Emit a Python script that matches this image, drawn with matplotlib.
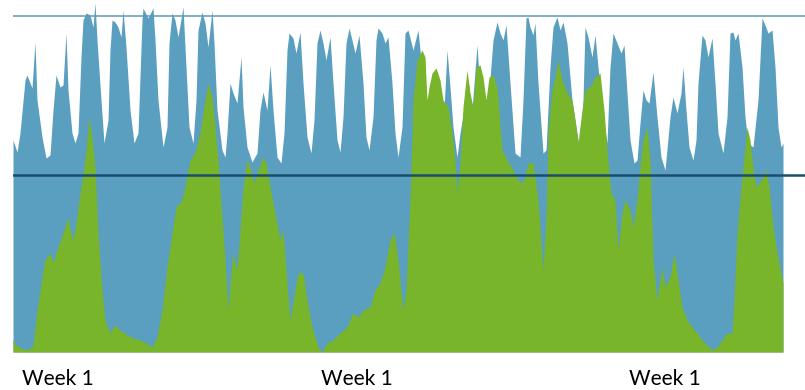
import matplotlib
matplotlib.use("Agg")
import numpy as np
from matplotlib import pyplot as plt

# time steps (arbitrary hourly index) and load values
blue_t = [0, 4, 7, 12, 14, 19, 22, 24, 29, 33, 37, 40, 43, 47, 50, 53, 55, 59, 62, 65,
          68, 70, 73, 77, 80, 82, 84, 88, 91, 95, 97, 99, 102, 105, 108, 110, 113, 117, 121, 125,
          129, 130, 135, 140, 142, 145, 150, 154, 156, 159, 162, 165, 170, 173, 176, 180, 183, 185, 189, 192,
          195, 199, 201, 204, 209, 212, 214, 217, 220, 224, 228, 230, 234, 239, 244, 247, 250, 254, 257, 260,
          264, 268, 271, 274, 276, 280, 283, 287, 290, 294, 298, 301, 304, 307, 310, 313, 317, 320, 324, 327,
          330, 333, 336, 339, 342, 346, 350, 353, 356, 360, 363, 365, 369, 372, 375, 379, 382, 385, 389, 392,
          395, 400, 405, 408, 415, 423, 431, 434, 437, 440, 444, 447, 450, 455, 459, 464, 466, 473, 480, 484,
          487, 490, 493, 497, 502, 507, 510, 513, 515, 517, 520, 522, 525, 530, 533, 537, 540, 544, 547, 550,
          554, 559, 564, 567, 570, 572, 575, 579, 582, 585, 589, 594, 597, 600, 604, 608, 611, 614, 617, 621,
          624, 627, 630, 633, 636, 640, 644, 648, 652, 657, 660, 664, 668, 670, 673, 676, 680, 683, 685, 689,
          692, 695, 699, 702, 705, 710, 714, 717, 720, 722, 725, 729, 732, 735, 740, 745, 749, 752, 755, 759,
          762, 765, 768, 770]
blue_v = [212, 200, 219, 272, 277, 264, 310, 252, 215, 194, 197, 242, 277, 265, 267, 319, 262, 219, 209, 219,
          295, 332, 339, 337, 325, 349, 312, 252, 209, 232, 302, 332, 330, 325, 315, 342, 305, 242, 209, 219,
          332, 344, 334, 344, 312, 252, 205, 225, 309, 339, 332, 315, 345, 285, 225, 209, 252, 322, 340, 329,
          305, 342, 309, 242, 202, 195, 219, 269, 259, 249, 295, 245, 205, 190, 199, 242, 260, 242, 287, 242,
          195, 189, 219, 302, 319, 314, 299, 320, 269, 215, 199, 232, 309, 322, 309, 292, 315, 269, 212, 200,
          235, 309, 324, 312, 299, 317, 269, 215, 202, 235, 312, 324, 319, 309, 315, 269, 219, 195, 225, 319,
          322, 302, 322, 292, 202, 272, 242, 302, 265, 225, 195, 219, 237, 272, 242, 307, 277, 222, 312, 330,
          319, 312, 327, 269, 199, 195, 252, 334, 335, 325, 317, 329, 269, 199, 202, 285, 325, 335, 322, 330,
          309, 252, 219, 199, 252, 325, 315, 295, 317, 285, 242, 209, 285, 319, 309, 299, 307, 259, 212, 189,
          192, 229, 262, 252, 249, 280, 235, 195, 182, 235, 255, 239, 259, 285, 242, 205, 192, 212, 269, 317,
          312, 295, 314, 269, 219, 199, 235, 319, 320, 312, 319, 285, 235, 209, 205, 252, 334, 327, 319, 322,
          285, 225, 205, 209]

green_t = [0, 5, 15, 20, 24, 29, 32, 37, 40, 44, 50, 55, 59, 62, 67, 71, 74, 76, 79, 82,
           85, 89, 92, 97, 102, 107, 114, 120, 127, 133, 139, 144, 149, 154, 159, 163, 169, 172, 177, 182,
           187, 192, 195, 199, 202, 205, 209, 212, 215, 218, 220, 224, 227, 230, 234, 237, 241, 245, 250, 253,
           257, 262, 267, 270, 274, 277, 282, 285, 290, 294, 299, 305, 309, 314, 320, 327, 334, 340, 345, 350,
           357, 362, 367, 372, 377, 381, 385, 390, 393, 397, 400, 404, 409, 412, 414, 416, 419, 423, 427, 430,
           435, 439, 442, 444, 447, 450, 454, 457, 460, 463, 467, 470, 473, 476, 480, 484, 489, 494, 500, 507,
           511, 515, 520, 522, 525, 530, 533, 535, 539, 542, 545, 549, 554, 559, 562, 565, 569, 572, 577, 582,
           587, 591, 594, 598, 602, 605, 609, 612, 617, 620, 624, 627, 630, 634, 637, 640, 644, 649, 652, 657,
           661, 665, 669, 674, 679, 684, 689, 692, 699, 704, 709, 714, 719, 721, 724, 728, 731, 734, 737, 740,
           743, 746, 750, 753, 756, 760, 764, 768, 770]
green_v = [12, 5, 2, 7, 42, 75, 92, 99, 89, 102, 119, 135, 112, 122, 159, 185, 212, 235, 215, 185,
           119, 62, 32, 19, 27, 22, 17, 14, 12, 9, 5, 15, 42, 85, 119, 145, 152, 165, 192, 199,
           219, 252, 269, 255, 225, 192, 135, 92, 42, 79, 99, 82, 122, 165, 192, 185, 169, 182, 195, 189,
           165, 139, 112, 122, 69, 32, 62, 79, 79, 52, 25, 5, 0, 9, 12, 19, 25, 39, 35, 42,
           45, 62, 69, 85, 112, 119, 92, 42, 62, 152, 252, 292, 302, 295, 252, 265, 279, 284, 272, 252,
           245, 219, 192, 159, 189, 245, 282, 259, 245, 285, 287, 275, 252, 275, 277, 265, 202, 192, 182, 169,
           172, 189, 189, 175, 152, 82, 135, 219, 262, 275, 292, 272, 259, 252, 232, 209, 242, 262, 265, 275,
           279, 242, 202, 159, 152, 102, 139, 152, 142, 125, 152, 185, 212, 225, 192, 92, 52, 85, 65, 75,
           99, 72, 45, 32, 25, 19, 12, 9, 2, 5, 12, 19, 19, 52, 119, 165, 195, 225, 212, 185,
           165, 169, 175, 182, 165, 125, 99, 79, 69]

top_level = 336.5
mid_level = 177.3
week_pos = [45, 344, 652]
week_labels = ["Week 1", "Week 1", "Week 1"]

fig = plt.figure(figsize=(8.05, 3.9), dpi=100)
ax = fig.add_axes([13 / 805, 38 / 390, 792 / 805, 352 / 390])

ax.fill_between(blue_t, 0, blue_v, color="#5a9fc0", lw=0)
ax.fill_between(green_t, 0, green_v, color="#78b52a", lw=0)
ax.axhline(top_level, color="#5f98ba", lw=1.1)
ax.axhline(mid_level, color="#1c4d6e", lw=1.8)

ax.set_xlim(0, 792)
ax.set_ylim(0, 352)
ax.set_xticks(week_pos)
ax.set_xticklabels(week_labels, fontsize=15, family="Lato")
ax.tick_params(axis="x", length=0, pad=12)
ax.set_yticks([])
for s in ax.spines.values():
    s.set_visible(False)

fig.savefig("out.png", dpi=100)
